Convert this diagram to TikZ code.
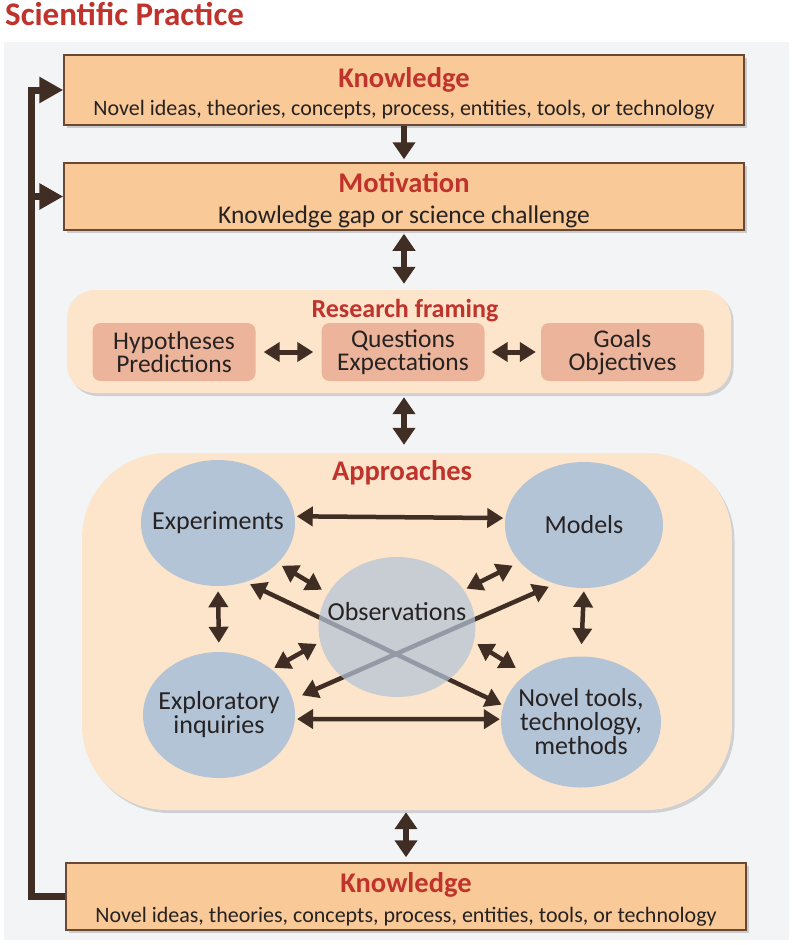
\documentclass[tikz,border=0pt]{standalone}
\usepackage{fontspec}
\setmainfont{Carlito}
\usetikzlibrary{arrows.meta,shapes.geometric,shadows}
\definecolor{sred}{RGB}{192,50,44}
\definecolor{kfill}{RGB}{249,201,152}
\definecolor{bline}{RGB}{105,72,54}
\definecolor{peach}{RGB}{253,229,203}
\definecolor{ifill}{RGB}{236,181,155}
\definecolor{eblue}{RGB}{180,196,215}
\definecolor{abrown}{RGB}{64,46,36}
\definecolor{panel}{RGB}{243,244,246}
\definecolor{dtext}{RGB}{38,34,34}
\tikzset{
     kbox/.style={draw=bline, line width=1.5pt, fill=kfill, minimum width=680pt, minimum height=#1,
                  drop shadow={shadow xshift=2.5pt, shadow yshift=-3pt, opacity=.35}},
     kbox/.default=70pt,
     rbox/.style={fill=peach, drop shadow={shadow xshift=2.5pt, shadow yshift=-3pt, opacity=.3}},
     ibox/.style={fill=ifill, rounded corners=8pt, minimum width=163pt, minimum height=58pt,
                  inner sep=0pt, align=center, font=\fontsize{25.5}{23}\selectfont},
     circ/.style={ellipse, fill=eblue, inner xsep=-20pt, inner ysep=0pt, align=center,
                  font=\fontsize{26}{24}\selectfont},
     head/.style={anchor=base, inner sep=0pt, text=sred, font=\fontsize{#1}{30}\selectfont\bfseries},
     head/.default=28.5,
     sub/.style={anchor=base, inner sep=0pt, font=\fontsize{#1}{24}\selectfont},
     sub/.default=22,
}
\tikzset{
     dbl/.style={draw=abrown, line width=4.5pt,
                 {Triangle[length=16pt,width=19pt]}-{Triangle[length=16pt,width=19pt]}},
     vdbl/.style={draw=abrown, line width=6pt,
                  {Triangle[length=17pt,width=22pt]}-{Triangle[length=17pt,width=22pt]}},
     down/.style={draw=abrown, line width=6pt, -{Triangle[length=17pt,width=22pt]}},
     fbline/.style={draw=abrown, line width=7pt, miter limit=4, -{Triangle[length=24pt,width=25pt]}},
}
\def\ux{1pt}
\def\uy{-1pt}

\begin{document}
\begin{tikzpicture}[x=\ux,y=\uy, every node/.style={text=dtext}]
	\useasboundingbox (0,0) rectangle (793,945);
	\fill[panel] (4,42) rectangle (789,940);
	\node[head=33, anchor=base west] (title) at (5,25) {Scientific Practice};

	% knowledge and motivation
	\node[kbox] (know) at (404,90) {};
	\node[head] (knowH) at (404,87) {Knowledge};
	\node[sub] (knowS) at (404,115) {Novel ideas, theories, concepts, process, entities, tools, or technology};

	\node[kbox=67pt] (motiv) at (404,196.5) {};
	\node[head] (motivH) at (404,192) {Motivation};
	\node[sub=25.5] (motivS) at (404,223) {Knowledge gap or science challenge};

	% research framing
	\node[rbox, rounded corners=28pt, minimum width=664pt, minimum height=103pt] (frame) at (399,341.5) {};
	\node[head=26] (frameH) at (405,317) {Research framing};
	\node[ibox] (hyp) at (174,352) {Hypotheses\\Predictions};
	\node[ibox] (ques) at (403,352) {Questions\\Expectations};
	\node[ibox] (goal) at (622.5,352) {Goals\\Objectives};
	\draw[dbl, line width=5pt, shorten <=8pt, shorten >=8pt] (hyp.east) -- (ques.west);
	\draw[dbl, line width=5pt, shorten <=7pt, shorten >=5pt] (ques.east) -- (goal.west);

	% approaches
	\node[rbox, rounded corners=85pt, minimum width=650pt, minimum height=357pt] (appr) at (407,631.5) {};
	\node[head] (apprH) at (402,480) {Approaches};
	\node[circ, minimum width=154pt, minimum height=126pt] (exp) at (218,523) {Experiments};
	\node[circ, minimum width=158pt, minimum height=126pt] (mod) at (584,525) {Models};
	\node[circ, minimum width=152pt, minimum height=126pt] (expl) at (219,715) {Exploratory\\inquiries};
	\node[circ, minimum width=160pt, minimum height=131pt] (novel) at (581,722) {Novel tools,\\technology,\\methods};

	\draw[dbl, shorten <=5pt, shorten >=2pt] (exp.-65) -- (novel.168);
	\draw[dbl, shorten <=10pt, shorten >=7pt] (expl.12) -- (mod.244);

	\node[circ, fill opacity=.72, text opacity=1, minimum width=157pt, minimum height=140pt,
	      text height=17pt, text depth=31pt] (obs) at (397,627) {Observations};

	\draw[dbl, shorten <=2pt, shorten >=2pt] (exp.5) -- (mod.175);
	\draw[dbl, shorten <=2pt, shorten >=1pt] (expl.-3) -- (novel.178);
	\draw[dbl, shorten <=5pt, shorten >=9pt] (exp.south) -- (expl.north);
	\draw[dbl, shorten <=3pt, shorten >=12pt] (mod.south) -- (novel.north);
	\draw[dbl, shorten <=5pt, shorten >=7pt] (exp.-34) -- (obs.154);
	\draw[dbl, shorten <=8pt, shorten >=3pt] (mod.210) -- (obs.29);
	\draw[dbl, shorten <=3pt, shorten >=4pt] (expl.41) -- (obs.191);
	\draw[dbl, shorten <=4pt, shorten >=12pt] (obs.-11) -- (novel.139);

	% knowledge (result)
	\node[kbox=67pt] (know2) at (406,896.5) {};
	\node[head] (know2H) at (406,892) {Knowledge};
	\node[sub] (know2S) at (406,922) {Novel ideas, theories, concepts, process, entities, tools, or technology};

	% main flow
	\draw[down, shorten >=3pt] (know.south) -- (know.south |- motiv.north);
	\draw[vdbl, shorten <=3pt, shorten >=6pt] (motiv.south) -- (motiv.south |- frame.north);
	\draw[vdbl, shorten <=4pt, shorten >=8pt] (frame.south -| motiv.south) -- (motiv.south |- appr.north);
	\draw[vdbl, shorten <=2pt, shorten >=5pt] (appr.south -| know2.north) -- (know2.north);

	% feedback loop
	\coordinate (fb) at (31,0);
	\draw[fbline] (know2.west) -- (know2.west -| fb) -- (know.west -| fb) -- (know.west);
	\draw[fbline] (motiv.west -| fb) -- (motiv.west);
\end{tikzpicture}
\end{document}
